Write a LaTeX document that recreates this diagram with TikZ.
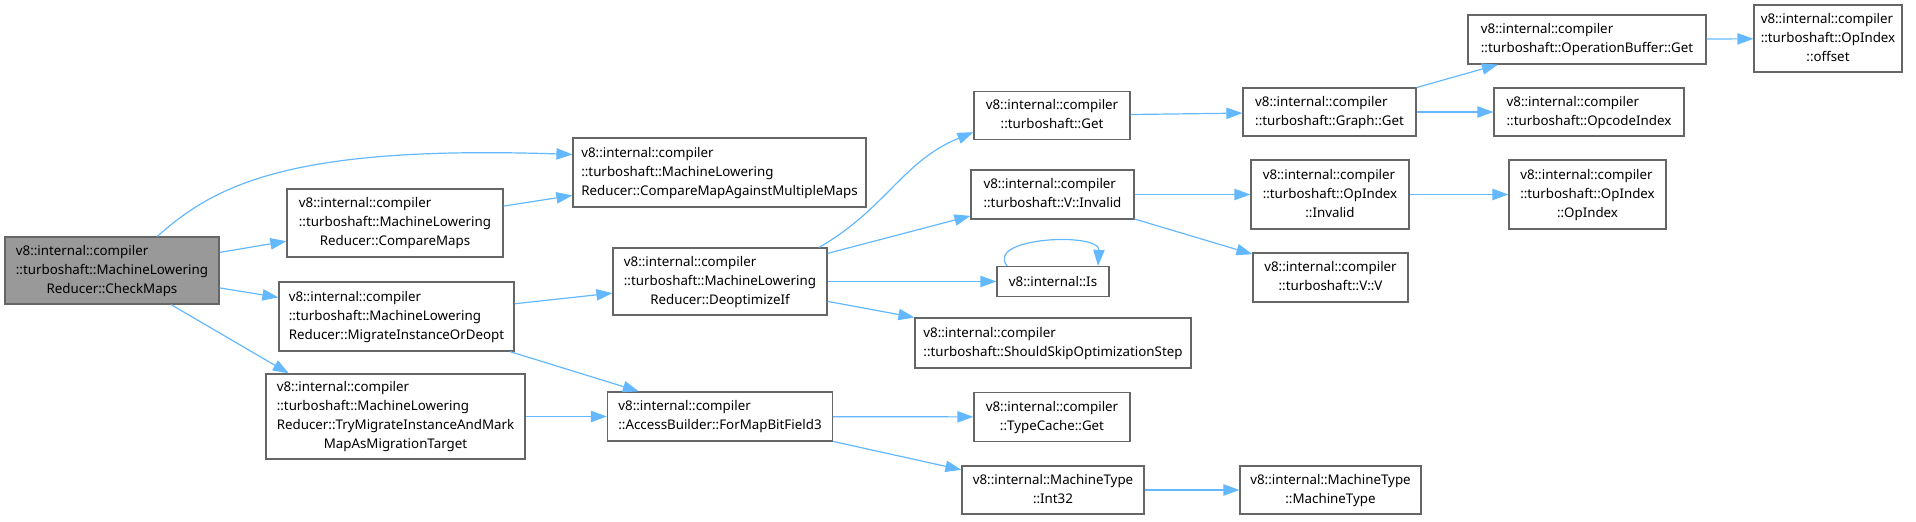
\documentclass[tikz,border=0pt]{standalone}
\usepackage{fontspec}
\setmainfont{Noto Sans}
\usetikzlibrary{arrows.meta,calc}

\newcommand{\fnlabel}[2]{\begin{tabular}{@{}l@{}}#1\\\multicolumn{1}{@{}c@{}}{#2}\end{tabular}}

\tikzset{
    fn/.style={draw=borderColour, line width=0.9pt, fill=white, inner sep=0pt,
        font=\fontsize{10}{14.25}\selectfont},
    rootfn/.style={fn, fill=rootColour},
    boxsize/.style 2 args={minimum width=#1*0.75pt, minimum height=#2*0.75pt},
    call/.style={draw=edgeColour, line width=0.9pt, -{Triangle[length=12pt,width=8.5pt]}}
}

\begin{document}
\begin{tikzpicture}[x=0.75pt, y=-0.75pt]
    \definecolor{borderColour}{HTML}{666666}
    \definecolor{rootColour}{HTML}{999999}
    \definecolor{edgeColour}{HTML}{63B8FF}

    \def\ns{v8::internal::compiler}
    \def\ml{\ns\\::turboshaft::MachineLowering}

    \useasboundingbox (0,0) rectangle (1916,521);

    % callers
    \node[rootfn, boxsize={214}{67}] (checkMaps) at (112,270.5) {\fnlabel{\ml}{Reducer::CheckMaps}};
    \node[fn, boxsize={216}{68}] (cmpMaps) at (395,223) {\fnlabel{\ml}{Reducer::CompareMaps}};
    \node[fn, boxsize={235}{69}] (migrate) at (396.5,316.5) {\fnlabel{\ml}{Reducer::MigrateInstanceOrDeopt}};
    \node[fn, boxsize={259}{85}] (tryMigrate) at (395.5,416.5) {\fnlabel{\ml\\Reducer::TryMigrateInstanceAndMark}{MapAsMigrationTarget}};

    \node[fn, boxsize={293}{69}] (cmpMulti) at (719.5,172.5) {\fnlabel{\ml}{Reducer::CompareMapAgainstMultipleMaps}};
    \node[fn, boxsize={214}{67}] (deopt) at (720,281.5) {\fnlabel{\ml}{Reducer::DeoptimizeIf}};
    \node[fn, boxsize={225}{49}] (forMap) at (720,416.5) {\fnlabel{\ns}{::AccessBuilder::ForMapBitField3}};

    \node[fn, boxsize={156}{48}] (tsGet) at (1052,115.5) {\fnlabel{\ns}{::turboshaft::Get}};
    \node[fn, boxsize={163}{49}] (vInvalid) at (1052.5,194.5) {\fnlabel{\ns}{::turboshaft::V::Invalid}};
    \node[fn, boxsize={112}{30}] (isNode) at (1053,281.5) {v8::internal::Is};
    \node[fn, boxsize={276}{50}] (skipOpt) at (1053,343) {\fnlabel{\ns}{::turboshaft::ShouldSkipOptimizationStep}};
    \node[fn, boxsize={156}{49}] (typeCache) at (1052,417) {\fnlabel{\ns}{::TypeCache::Get}};
    \node[fn, boxsize={182}{48}] (int32) at (1053,490) {\fnlabel{v8::internal::MachineType}{::Int32}};

    \node[fn, boxsize={173}{48}] (graphGet) at (1329.5,112) {\fnlabel{\ns}{::turboshaft::Graph::Get}};
    \node[fn, boxsize={158}{69}] (opInvalid) at (1330,194.5) {\fnlabel{\ns\\::turboshaft::OpIndex}{::Invalid}};
    \node[fn, boxsize={155}{49}] (vCtor) at (1330.5,277.5) {\fnlabel{\ns}{::turboshaft::V::V}};
    \node[fn, boxsize={181}{48}] (mtCtor) at (1330.5,490) {\fnlabel{v8::internal::MachineType}{::MachineType}};

    \node[fn, boxsize={238}{49}] (opBuffer) at (1587,39.5) {\fnlabel{\ns}{::turboshaft::OperationBuffer::Get}};
    \node[fn, boxsize={190}{48}] (opcodeIdx) at (1589,112) {\fnlabel{\ns}{::turboshaft::OpcodeIndex}};
    \node[fn, boxsize={157}{69}] (opIdxCtor) at (1587.5,194.5) {\fnlabel{\ns\\::turboshaft::OpIndex}{::OpIndex}};
    \node[fn, boxsize={148}{67}] (offset) at (1828,38.5) {\fnlabel{\ns\\::turboshaft::OpIndex}{::offset}};

    % calls
    \draw[call] (checkMaps.37) .. controls (215,185) and (290,145) .. (cmpMulti.173);
    \draw[call] (checkMaps) -- (cmpMaps);
    \draw[call] (checkMaps) -- (migrate);
    \draw[call] (checkMaps.-30) -- (tryMigrate.158);
    \draw[call] (cmpMaps) -- (cmpMulti);
    \draw[call] (migrate) -- (deopt);
    \draw[call] (migrate) -- (forMap);
    \draw[call] (tryMigrate) -- (forMap);

    \draw[call] (deopt.19) .. controls +(67,-38.5) and +(-71,29) .. (tsGet.192);
    \draw[call] (deopt) -- (vInvalid);
    \draw[call] (deopt) -- (isNode);
    \draw[call] (deopt) -- (skipOpt);
    \draw[call] ($(isNode.north)+(-46,0)$) .. controls +(-22,-29) and +(2,-34) .. ($(isNode.north)+(45,0)$);
    \draw[call] (forMap) -- (typeCache);
    \draw[call] (forMap) -- (int32);

    \draw[call] (tsGet) -- (graphGet);
    \draw[call] (vInvalid) -- (opInvalid);
    \draw[call] (vInvalid) -- (vCtor);
    \draw[call] (int32) -- (mtCtor);

    \draw[call] (graphGet) -- (opBuffer);
    \draw[call] (graphGet) -- (opcodeIdx);
    \draw[call] (opInvalid) -- (opIdxCtor);
    \draw[call] (opBuffer) -- (offset);

\end{tikzpicture}
\end{document}
